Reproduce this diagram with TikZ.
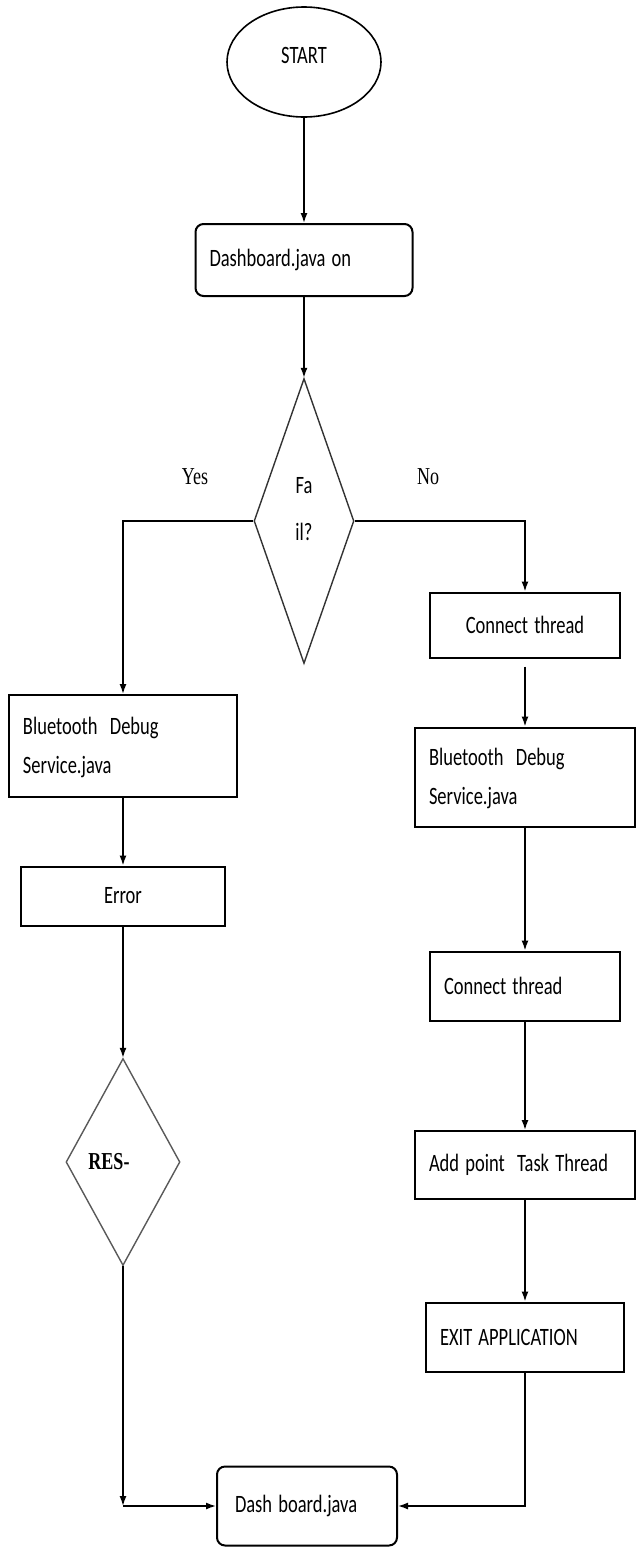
\documentclass[tikz,border=0pt]{standalone}
\usepackage{graphicx}
\usepackage{fontspec}
\setmainfont{Carlito}
\newfontfamily\serifyes{Liberation Serif}
\usetikzlibrary{shapes.geometric,arrows.meta}
\newcommand{\tall}[1]{\scalebox{1}[1.35]{#1}}
\newcommand{\lift}[2]{\raisebox{#1}[\height][\depth]{#2}}
\tikzset{
  every node/.style={font=\fontsize{18.5}{29}\selectfont},
  term/.style={draw, ellipse, line width=1.6pt, minimum width=154pt, minimum height=110pt},
  procbox/.style={draw, rectangle, line width=2pt, inner xsep=14pt, inner ysep=0pt, align=left},
  roundbox/.style={procbox, rounded corners=8pt},
  decision/.style={draw=black!80, diamond, line width=1.4pt, shape aspect=0.35, inner sep=1pt},
  arr/.style={-{Latex[length=10pt,width=7pt]}, line width=1.5pt}
}
\begin{document}
\begin{tikzpicture}[x=1pt, y=-1pt]
\useasboundingbox (0,0) rectangle (636,1548);
\node[term] (start) at (304,62) {\lift{7pt}{\tall{START}}};
\node[roundbox, text width=189pt, minimum height=72pt] (dash1) at (304,260) {\tall{Dashboard.java on}};
\node[decision, minimum width=100pt, minimum height=285pt] (fail) at (304,521)
  {\lift{12pt}{\tall{\begin{tabular}{@{}c@{}}Fa\\[6pt]il?\end{tabular}}}};
\node[font=\fontsize{18}{22}\selectfont\serifyes] (yes) at (195,477) {\tall{Yes}};
\node[font=\fontsize{18}{22}\selectfont\serifyes] (no) at (428,477) {\tall{No}};
% left branch
\node[procbox, text width=200pt, minimum height=102pt] (bds1) at (123,746)
  {\tall{\begin{tabular}{@{}l@{}}Bluetooth~~Debug\\Service.java\end{tabular}}};
\node[procbox, align=center, text width=176pt, minimum height=59pt] (err) at (123,896) {\tall{Error}};
\node[decision, draw=black!65, shape aspect=0.55, minimum width=114pt, minimum height=207pt,
  font=\fontsize{18}{22}\selectfont\serifyes\bfseries] (res) at (123,1162) {\tall{RES-}\hspace*{28pt}};
% right branch
\node[procbox, align=center, text width=162pt, minimum height=65pt] (ct1) at (525,625) {\tall{Connect thread}};
\node[procbox, text width=192pt, minimum height=99pt] (bds2) at (525,777)
  {\tall{\begin{tabular}{@{}l@{}}Bluetooth~~Debug\\Service.java\end{tabular}}};
\node[procbox, text width=162pt, minimum height=69pt] (ct2) at (525,986) {\tall{Connect thread}};
\node[procbox, text width=192pt, minimum height=68pt] (apt) at (525,1165) {\tall{Add point\ \ Task Thread}};
\node[procbox, text width=170pt, minimum height=69pt] (exitapp) at (525,1337) {\tall{EXIT APPLICATION}};
\node[roundbox, inner xsep=18pt, text width=144pt, minimum height=79pt] (dash2) at (307,1506) {\tall{Dash board.java}};
\draw[arr] (start) -- (dash1);
\draw[arr] (dash1) -- (fail);
\draw[arr] (fail.west) -| (bds1.north);
\draw[arr] (fail.east) -| (ct1.north);
\draw[arr] (bds1) -- (err);
\draw[arr] (err) -- (res);
\coordinate (corner) at (res.south |- dash2.west);
\draw[arr] (res.south) -- (corner);
\draw[arr] (corner) -- (dash2.west);
\draw[arr, shorten <=8pt] (ct1) -- (bds2);
\draw[arr] (bds2) -- (ct2);
\draw[arr] (ct2) -- (apt);
\draw[arr] (apt) -- (exitapp);
\draw[arr] (exitapp.south) |- (dash2.east);
\end{tikzpicture}
\end{document}
